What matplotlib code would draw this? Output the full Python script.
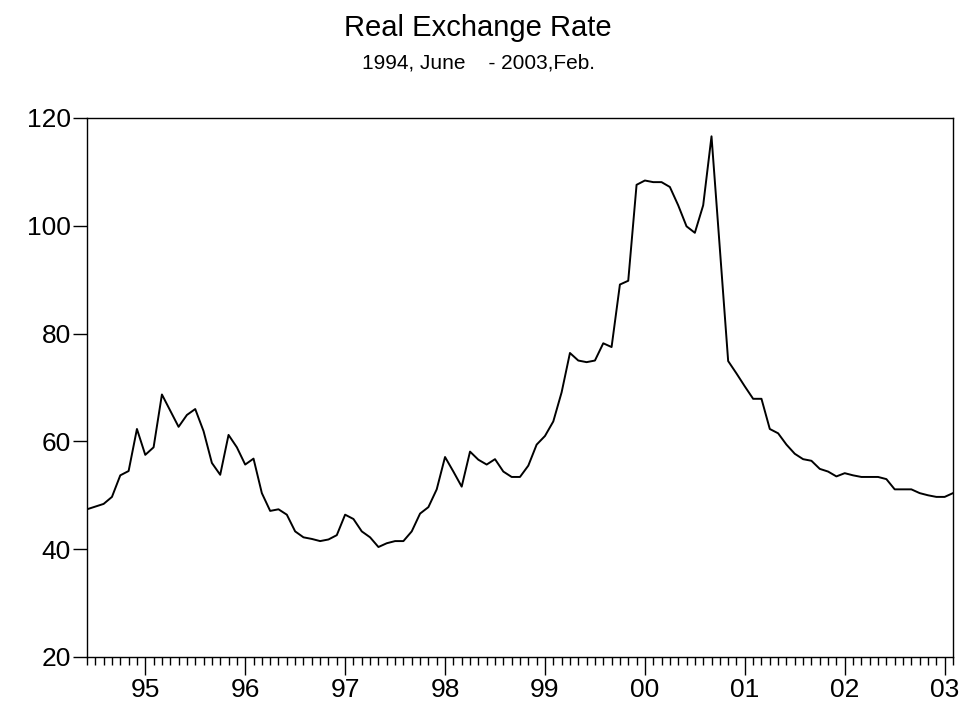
import numpy as np
import matplotlib
matplotlib.use('Agg')
import matplotlib.pyplot as plt
from matplotlib.ticker import FixedLocator, MultipleLocator

plt.rcParams['font.family'] = ['Liberation Sans', 'DejaVu Sans']

# monthly real exchange rate, 1994 June .. 2003 Feb
rer = [47.4, 47.9, 48.4, 49.7, 53.7, 54.5, 62.3, 57.5, 58.9, 68.7,
       65.7, 62.7, 64.9, 66.0, 61.9, 56.0, 53.8, 61.2, 58.9, 55.7,
       56.8, 50.4, 47.1, 47.4, 46.4, 43.3, 42.2, 41.9, 41.5, 41.8,
       42.6, 46.4, 45.6, 43.3, 42.2, 40.4, 41.1, 41.5, 41.5, 43.3,
       46.6, 47.8, 51.1, 57.1, 54.4, 51.6, 58.1, 56.6, 55.7, 56.7,
       54.4, 53.4, 53.4, 55.5, 59.4, 61.0, 63.7, 69.1, 76.4, 75.0,
       74.7, 75.0, 78.2, 77.5, 89.1, 89.8, 107.6, 108.4, 108.1, 108.1,
       107.2, 103.8, 99.9, 98.7, 103.8, 116.6, 95.8, 74.9, 72.6, 70.2,
       67.9, 67.9, 62.3, 61.5, 59.4, 57.7, 56.7, 56.4, 54.9, 54.4,
       53.5, 54.1, 53.7, 53.4, 53.4, 53.4, 53.0, 51.1, 51.1, 51.1,
       50.4, 50.0, 49.7, 49.7, 50.4]

start_month = 6  # June 1994
year_labels = ['95', '96', '97', '98', '99', '00', '01', '02', '03']

t = np.arange(len(rer))
jan_pos = [13 - start_month + 12 * k for k in range(len(year_labels))]

fig = plt.figure(figsize=(9.6, 7.04), dpi=100)
ax = fig.add_axes([0.0906, 0.0668, 0.9021, 0.7656])

ax.plot(t, rer, color='black', lw=1.4)

ax.set_xlim(0, len(rer) - 1)
ax.set_ylim(20, 120)
ax.yaxis.set_major_locator(MultipleLocator(20))
ax.xaxis.set_major_locator(FixedLocator(jan_pos))
ax.xaxis.set_minor_locator(MultipleLocator(1))
ax.set_xticklabels(year_labels)

ax.tick_params(axis='both', labelsize=19, colors='black', width=1)
ax.tick_params(axis='x', which='major', length=13, pad=2)
ax.tick_params(axis='x', which='minor', length=6, width=1)
ax.tick_params(axis='y', which='major', length=10, pad=1.5)
for s in ax.spines.values():
    s.set_linewidth(1)

fig.text(0.498, 0.960, 'Real Exchange Rate', ha='center', va='center', fontsize=21)
fig.text(0.498, 0.910, '1994, June    - 2003,Feb.', ha='center', va='center', fontsize=15)

fig.savefig('out.png', dpi=100)
